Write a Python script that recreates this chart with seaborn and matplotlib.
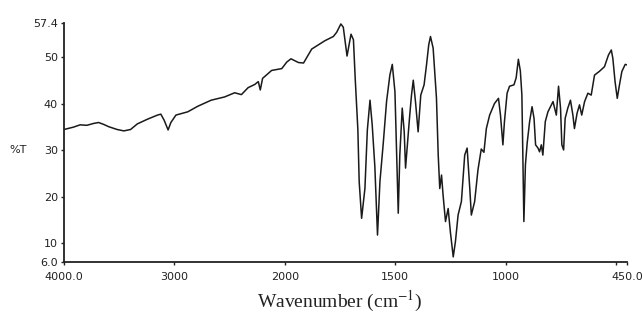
import numpy as np
import pandas as pd
import matplotlib
matplotlib.use('Agg')
import matplotlib.pyplot as plt
import seaborn as sns

# IR spectrum (wavenumber in cm-1, transmittance in %T)
wavenumber = [
    4000, 3915, 3854, 3793, 3732, 3687, 3641, 3595, 3519, 3458,
    3397, 3336, 3245, 3153, 3123, 3093, 3057, 3032, 2986, 2879,
    2788, 2667, 2545, 2454, 2393, 2332, 2271, 2240, 2222, 2201,
    2119, 2027, 1991, 1972, 1938, 1915, 1878, 1818, 1780, 1765,
    1746, 1735, 1718, 1700, 1689, 1681, 1669, 1663, 1652, 1637,
    1626, 1614, 1604, 1592, 1580, 1569, 1554, 1539, 1524, 1513,
    1501, 1494, 1486, 1479, 1468, 1459, 1453, 1444, 1434, 1426,
    1418, 1408, 1396, 1384, 1369, 1358, 1348, 1340, 1328, 1313,
    1305, 1298, 1290, 1283, 1272, 1260, 1250, 1237, 1227, 1215,
    1200, 1185, 1174, 1162, 1155, 1140, 1125, 1110, 1098, 1087,
    1072, 1050, 1032, 1023, 1012, 1005, 993, 982, 962, 952,
    942, 933, 926, 921, 917, 910, 902, 891, 880, 871,
    864, 853, 846, 838, 831, 820, 808, 785, 770, 760,
    751, 745, 737, 730, 718, 706, 695, 688, 676, 665,
    655, 642, 627, 612, 597, 575, 552, 534, 521, 514,
    504, 494, 484, 473, 458, 450,
]
transmittance = [
    34.5, 35.0, 35.5, 35.4, 35.8, 36.0, 35.6, 35.1, 34.5, 34.2,
    34.5, 35.7, 36.7, 37.6, 37.8, 36.5, 34.4, 36.0, 37.6, 38.3,
    39.5, 40.8, 41.5, 42.4, 42.0, 43.5, 44.2, 44.8, 43.0, 45.5,
    47.2, 47.6, 49.0, 49.7, 48.9, 48.8, 51.8, 53.6, 54.5, 55.4,
    57.2, 56.5, 50.3, 55.0, 53.8, 45.5, 34.5, 23.3, 15.4, 21.8,
    34.4, 40.8, 35.5, 26.5, 11.8, 23.3, 31.5, 40.5, 46.2, 48.5,
    42.6, 30.5, 16.5, 29.0, 39.1, 34.0, 26.2, 31.6, 37.6, 41.9,
    45.1, 40.5, 34.0, 41.9, 44.1, 48.4, 52.7, 54.5, 52.0, 41.3,
    29.0, 21.8, 24.7, 20.4, 14.7, 17.5, 12.5, 7.1, 10.4, 16.1,
    19.0, 29.0, 30.5, 21.8, 16.1, 19.0, 25.8, 30.3, 29.6, 34.7,
    37.6, 40.1, 41.2, 37.6, 31.2, 36.2, 42.3, 43.8, 44.1, 45.6,
    49.6, 47.1, 41.9, 26.9, 14.7, 26.9, 31.6, 36.2, 39.4, 36.9,
    31.2, 30.5, 29.7, 31.2, 29.0, 36.2, 38.3, 40.5, 37.6, 43.8,
    39.1, 31.2, 30.1, 36.9, 39.1, 40.8, 37.6, 34.7, 38.0, 39.8,
    37.6, 40.5, 42.3, 41.9, 46.2, 47.0, 48.0, 50.5, 51.6, 49.8,
    44.8, 41.2, 44.1, 47.0, 48.5, 48.4,
]

x_ticks = [4000, 3000, 2000, 1500, 1000, 500, 450]
x_ticklabels = ['4000.0', '3000', '2000', '1500', '1000', '', '450.0']
y_ticks = [6, 10, 20, 30, 40, 50, 57.4]
y_ticklabels = ['6.0', '10', '20', '30', '40', '50', '57.4']

df = pd.DataFrame({'wn': wavenumber, 'T': transmittance})

sns.set_style('ticks')
plt.rcParams['font.family'] = ['DejaVu Sans']
plt.rcParams['mathtext.fontset'] = 'stix'


# spectrometer axis: scale doubles below 2000 cm-1
def fwd(x):
    x = np.asarray(x, dtype=float)
    return np.where(x >= 2000, x, 2 * x - 2000)


def inv(u):
    u = np.asarray(u, dtype=float)
    return np.where(u >= 2000, u, (u + 2000) / 2)


fig = plt.figure(figsize=(6.42, 3.21), dpi=100)
ax = fig.add_axes([0.0997, 0.1838, 0.8769, 0.7445])
ax.set_xscale('function', functions=(fwd, inv))

sns.lineplot(data=df, x='wn', y='T', sort=False, estimator=None,
             color='#1a1a1a', linewidth=1.1, ax=ax)

ax.set_xlim(4000, 450)
ax.set_ylim(6, 57.4)
ax.set_xticks(x_ticks)
ax.set_xticklabels(x_ticklabels)
ax.set_yticks(y_ticks)
ax.set_yticklabels(y_ticklabels)
ax.minorticks_off()

ax.tick_params(axis='x', length=2, width=1, pad=5.5, labelsize=8, colors='#222222')
ax.tick_params(axis='y', length=2, width=1, pad=2.5, labelsize=8, colors='#222222')

for side in ['top', 'right']:
    ax.spines[side].set_visible(False)
for side in ['left', 'bottom']:
    ax.spines[side].set_linewidth(1.3)
    ax.spines[side].set_color('#222222')

ax.set_ylabel('%T', rotation=0, fontsize=8, ha='center', va='center', color='#222222')
ax.yaxis.set_label_coords(-0.082, 0.469)
ax.set_xlabel('Wavenumber (cm$^{-1}$)', family='Liberation Serif', fontsize=14,
              va='center', color='#222222')
ax.xaxis.set_label_coords(0.49, -0.167)

fig.savefig('out.png', dpi=100)
